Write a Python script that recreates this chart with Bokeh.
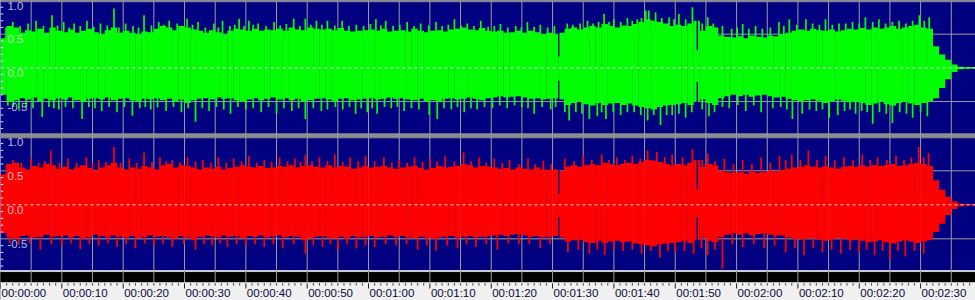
from bokeh.plotting import figure
from bokeh.models import Range1d, Span
from bokeh.embed import file_html
from bokeh.resources import INLINE
from bokeh.core.properties import value

# ---------------- data ----------------
# 1-second bins, t = bin start in seconds
t_bins = list(range(159))

# green (left / top channel) body envelope
g_hi = [0.44, 0.62, 0.60, 0.52, 0.56, 0.54, 0.58, 0.52, 0.60, 0.55,
        0.53, 0.57, 0.52, 0.55, 0.58, 0.53, 0.50, 0.56, 0.60, 0.52,
        0.55, 0.52, 0.50, 0.54, 0.53, 0.58, 0.62, 0.60, 0.56, 0.62,
        0.60, 0.57, 0.55, 0.52, 0.56, 0.53, 0.50, 0.55, 0.58, 0.57,
        0.55, 0.58, 0.55, 0.57, 0.56, 0.58, 0.55, 0.60, 0.57, 0.56,
        0.60, 0.58, 0.57, 0.58, 0.56, 0.59, 0.55, 0.54, 0.55, 0.56,
        0.57, 0.55, 0.58, 0.54, 0.55, 0.56, 0.54, 0.58, 0.55, 0.53,
        0.55, 0.56, 0.54, 0.57, 0.58, 0.60, 0.57, 0.56, 0.59, 0.55,
        0.54, 0.55, 0.52, 0.53, 0.55, 0.52, 0.55, 0.53, 0.50, 0.52,
        0.50, 0.52, 0.58, 0.60, 0.57, 0.60, 0.62, 0.60, 0.65, 0.62,
        0.60, 0.63, 0.62, 0.65, 0.68, 0.72, 0.70, 0.68, 0.66, 0.62,
        0.64, 0.62, 0.66, 0.70, 0.55, 0.62, 0.60, 0.48, 0.46, 0.45,
        0.47, 0.44, 0.48, 0.46, 0.45, 0.48, 0.47, 0.50, 0.52, 0.55,
        0.57, 0.55, 0.58, 0.56, 0.55, 0.57, 0.54, 0.56, 0.58, 0.57,
        0.59, 0.57, 0.60, 0.58, 0.60, 0.62, 0.58, 0.60, 0.62, 0.64,
        0.60, 0.58, 0.32, 0.20, 0.12, 0.05, 0.015, 0.012, 0.012]
g_lo = [-0.40, -0.50, -0.48, -0.45, -0.47, -0.44, -0.50, -0.46, -0.48, -0.45,
        -0.47, -0.44, -0.48, -0.50, -0.46, -0.45, -0.47, -0.44, -0.48, -0.46,
        -0.45, -0.48, -0.50, -0.46, -0.47, -0.45, -0.48, -0.46, -0.50, -0.47,
        -0.52, -0.48, -0.46, -0.45, -0.47, -0.44, -0.46, -0.45, -0.48, -0.50,
        -0.47, -0.45, -0.48, -0.46, -0.44, -0.47, -0.45, -0.48, -0.46, -0.50,
        -0.48, -0.46, -0.45, -0.47, -0.50, -0.46, -0.45, -0.48, -0.47, -0.46,
        -0.45, -0.47, -0.46, -0.44, -0.46, -0.45, -0.47, -0.48, -0.46, -0.50,
        -0.48, -0.50, -0.46, -0.45, -0.47, -0.46, -0.44, -0.46, -0.48, -0.45,
        -0.44, -0.42, -0.44, -0.43, -0.42, -0.44, -0.46, -0.45, -0.47, -0.46,
        -0.45, -0.47, -0.55, -0.52, -0.50, -0.54, -0.56, -0.52, -0.55, -0.53,
        -0.52, -0.55, -0.53, -0.56, -0.58, -0.60, -0.62, -0.58, -0.56, -0.55,
        -0.54, -0.52, -0.55, -0.50, -0.47, -0.52, -0.55, -0.45, -0.42, -0.40,
        -0.42, -0.40, -0.43, -0.41, -0.40, -0.42, -0.44, -0.43, -0.46, -0.48,
        -0.50, -0.48, -0.47, -0.49, -0.52, -0.50, -0.47, -0.49, -0.51, -0.50,
        -0.52, -0.55, -0.53, -0.50, -0.54, -0.56, -0.52, -0.50, -0.53, -0.55,
        -0.52, -0.50, -0.45, -0.30, -0.17, -0.06, -0.02, -0.012, -0.012]

# red (right / bottom channel) body envelope
r_hi = [0.45, 0.60, 0.62, 0.55, 0.52, 0.57, 0.55, 0.60, 0.58, 0.53,
        0.56, 0.52, 0.55, 0.58, 0.54, 0.50, 0.55, 0.58, 0.62, 0.55,
        0.52, 0.55, 0.53, 0.57, 0.55, 0.52, 0.58, 0.60, 0.55, 0.58,
        0.57, 0.55, 0.52, 0.55, 0.53, 0.56, 0.52, 0.54, 0.56, 0.58,
        0.56, 0.55, 0.57, 0.54, 0.55, 0.57, 0.56, 0.58, 0.55, 0.57,
        0.58, 0.56, 0.55, 0.58, 0.55, 0.57, 0.56, 0.53, 0.55, 0.57,
        0.55, 0.56, 0.57, 0.55, 0.53, 0.55, 0.56, 0.57, 0.54, 0.52,
        0.54, 0.57, 0.55, 0.56, 0.57, 0.60, 0.58, 0.55, 0.57, 0.56,
        0.55, 0.53, 0.54, 0.52, 0.55, 0.53, 0.52, 0.55, 0.52, 0.51,
        0.52, 0.50, 0.56, 0.58, 0.56, 0.58, 0.60, 0.58, 0.62, 0.60,
        0.58, 0.60, 0.62, 0.60, 0.63, 0.66, 0.65, 0.63, 0.60, 0.58,
        0.60, 0.58, 0.62, 0.66, 0.56, 0.60, 0.58, 0.50, 0.48, 0.47,
        0.48, 0.46, 0.49, 0.47, 0.48, 0.50, 0.49, 0.51, 0.53, 0.55,
        0.56, 0.58, 0.56, 0.55, 0.57, 0.55, 0.53, 0.56, 0.57, 0.56,
        0.58, 0.56, 0.58, 0.57, 0.59, 0.60, 0.57, 0.58, 0.60, 0.62,
        0.60, 0.57, 0.36, 0.22, 0.12, 0.05, 0.015, 0.012, 0.012]
r_lo = [-0.42, -0.48, -0.50, -0.46, -0.45, -0.48, -0.47, -0.44, -0.47, -0.46,
        -0.45, -0.48, -0.46, -0.50, -0.47, -0.44, -0.46, -0.48, -0.45, -0.47,
        -0.48, -0.46, -0.49, -0.47, -0.45, -0.47, -0.46, -0.48, -0.50, -0.46,
        -0.48, -0.52, -0.47, -0.45, -0.46, -0.48, -0.45, -0.47, -0.46, -0.49,
        -0.46, -0.47, -0.45, -0.48, -0.46, -0.45, -0.48, -0.46, -0.47, -0.52,
        -0.49, -0.47, -0.46, -0.48, -0.49, -0.47, -0.50, -0.46, -0.48, -0.47,
        -0.46, -0.48, -0.47, -0.45, -0.47, -0.46, -0.48, -0.49, -0.47, -0.48,
        -0.50, -0.48, -0.47, -0.46, -0.48, -0.47, -0.46, -0.48, -0.47, -0.46,
        -0.45, -0.44, -0.46, -0.44, -0.43, -0.45, -0.47, -0.46, -0.48, -0.47,
        -0.46, -0.48, -0.54, -0.52, -0.51, -0.55, -0.56, -0.53, -0.56, -0.54,
        -0.53, -0.55, -0.54, -0.57, -0.58, -0.60, -0.61, -0.58, -0.57, -0.56,
        -0.55, -0.53, -0.56, -0.52, -0.48, -0.53, -0.55, -0.47, -0.44, -0.42,
        -0.44, -0.42, -0.45, -0.43, -0.42, -0.44, -0.45, -0.45, -0.48, -0.50,
        -0.51, -0.50, -0.49, -0.51, -0.53, -0.51, -0.49, -0.50, -0.52, -0.51,
        -0.53, -0.55, -0.54, -0.52, -0.55, -0.57, -0.54, -0.52, -0.54, -0.56,
        -0.54, -0.52, -0.40, -0.28, -0.15, -0.06, -0.02, -0.012, -0.012]

# individual peaks (time in s, amplitude)
g_up_t = [0.9, 2.0, 3.2, 4.5, 5.8, 7.0, 8.4, 9.3, 10.3, 11.2, 12.0, 13.0, 14.1, 15.2, 16.3,
          17.4, 18.5, 19.3, 20.4, 21.6, 22.5, 23.4, 24.6, 25.8, 26.6, 27.5, 28.8, 29.6, 30.4,
          31.3, 32.2, 33.4, 34.8, 35.5, 36.2, 37.4, 38.2, 38.9, 39.7, 40.5, 41.2, 42.0, 43.3,
          44.6, 45.6, 46.6, 47.8, 48.8, 49.7, 50.6, 51.5, 52.4, 53.3, 54.5, 55.7, 56.8, 58.0,
          59.2, 60.3, 61.2, 62.0, 62.8, 64.0, 65.1, 66.3, 67.4, 68.5, 69.8, 71.0, 72.0, 73.0,
          74.0, 75.1, 76.1, 77.2, 78.3, 79.5, 80.5, 81.5, 82.7, 84.0, 84.9, 85.9, 87.0, 88.0,
          89.2, 90.3, 92.4, 93.3, 94.5, 95.7, 96.6, 97.5, 98.4, 99.2, 100.0, 101.1, 102.2,
          103.0, 103.8, 104.5, 105.2, 105.7, 106.8, 107.8, 109.0, 109.8, 110.6, 111.7, 112.8,
          114.4, 115.3, 116.2, 117.7, 119.2, 120.1, 121.0, 122.0, 123.1, 124.2, 125.5, 126.9,
          127.7, 128.6, 129.8, 131.3, 132.4, 133.5, 134.5, 135.6, 136.7, 137.8, 138.9, 140.0,
          141.0, 142.2, 143.2, 144.3, 145.4, 146.5, 147.6, 148.7, 149.8, 150.6, 151.4]
g_up_v = [0.60, 0.68, 0.62, 0.66, 0.70, 0.62, 0.78, 0.63, 0.68, 0.60, 0.66, 0.62, 0.70, 0.61, 0.66,
          0.63, 0.88, 0.60, 0.66, 0.62, 0.60, 0.78, 0.63, 0.68, 0.64, 0.70, 0.66, 0.62, 0.73,
          0.64, 0.68, 0.60, 0.66, 0.60, 0.70, 0.62, 0.64, 0.73, 0.62, 0.70, 0.64, 0.66, 0.62,
          0.68, 0.63, 0.65, 0.73, 0.62, 0.73, 0.64, 0.70, 0.64, 0.70, 0.63, 0.70, 0.62, 0.64,
          0.62, 0.65, 0.72, 0.63, 0.70, 0.62, 0.64, 0.68, 0.62, 0.66, 0.63, 0.68, 0.62, 0.64,
          0.72, 0.63, 0.66, 0.62, 0.70, 0.61, 0.62, 0.65, 0.60, 0.62, 0.60, 0.68, 0.61, 0.64,
          0.60, 0.62, 0.66, 0.64, 0.66, 0.70, 0.66, 0.68, 0.80, 0.68, 0.72, 0.68, 0.74,
          0.70, 0.72, 0.74, 0.85, 0.85, 0.82, 0.74, 0.75, 0.72, 0.80, 0.72, 0.90,
          0.66, 0.75, 0.66, 0.62, 0.58, 0.60, 0.65, 0.58, 0.62, 0.58, 0.60, 0.68,
          0.62, 0.72, 0.64, 0.72, 0.66, 0.64, 0.72, 0.64, 0.66, 0.66, 0.68, 0.66,
          0.75, 0.68, 0.72, 0.66, 0.68, 0.70, 0.66, 0.70, 0.78, 0.70, 0.75]
g_dn_t = [1.2, 2.1, 3.0, 4.2, 5.3, 6.8, 7.9, 8.7, 9.5, 10.6, 11.8, 13.3, 14.4, 15.4, 16.5,
          17.7, 19.0, 20.2, 21.5, 22.7, 23.6, 24.5, 25.6, 27.0, 28.2, 29.5, 30.6, 31.8, 32.9,
          34.0, 35.2, 36.4, 37.5, 38.7, 40.0, 41.2, 42.5, 43.7, 45.0, 46.2, 47.5, 48.6, 49.7,
          51.0, 52.3, 53.3, 54.6, 55.8, 56.9, 57.9, 58.8, 59.8, 60.6, 61.4, 62.6, 63.7, 64.7,
          65.8, 67.0, 68.2, 69.9, 71.2, 72.3, 73.5, 74.5, 75.6, 76.7, 77.7, 78.9, 80.2, 81.4,
          82.6, 83.8, 85.0, 86.0, 87.0, 88.3, 89.7, 90.5, 92.0, 92.7, 93.8, 94.8, 96.0, 97.3,
          98.0, 98.7, 99.9, 101.1, 102.2, 103.3, 104.4, 105.5, 106.5, 107.6, 108.6, 109.5,
          110.6, 111.7, 112.7, 114.4, 115.5, 116.4, 117.7, 118.8, 120.2, 121.5, 122.8, 124.0,
          125.9, 127.2, 128.2, 129.1, 130.7, 131.9, 133.0, 134.0, 135.1, 136.5, 137.6, 138.5,
          139.4, 140.4, 141.3, 142.2, 143.3, 144.4, 145.4, 146.6, 147.7, 148.7, 150.0, 151.1]
g_dn_v = [-0.56, -0.58, -0.62, -0.58, -0.60, -0.73, -0.58, -0.60, -0.62, -0.58, -0.60, -0.76, -0.58, -0.60, -0.64,
          -0.58, -0.66, -0.58, -0.71, -0.60, -0.58, -0.62, -0.59, -0.64, -0.58, -0.66, -0.60, -0.80, -0.60,
          -0.64, -0.58, -0.62, -0.68, -0.58, -0.62, -0.60, -0.66, -0.58, -0.68, -0.60, -0.64, -0.60, -0.76,
          -0.60, -0.64, -0.62, -0.58, -0.62, -0.58, -0.68, -0.60, -0.66, -0.60, -0.68, -0.58, -0.60, -0.58,
          -0.64, -0.60, -0.62, -0.70, -0.76, -0.60, -0.62, -0.58, -0.66, -0.60, -0.62, -0.58, -0.60, -0.56,
          -0.60, -0.56, -0.58, -0.60, -0.68, -0.58, -0.62, -0.58, -0.66, -0.78, -0.66, -0.68, -0.76, -0.72,
          -0.66, -0.76, -0.66, -0.70, -0.66, -0.66, -0.70, -0.78, -0.70, -0.85, -0.70, -0.70,
          -0.68, -0.74, -0.66, -0.62, -0.72, -0.66, -0.58, -0.60, -0.55, -0.64, -0.56, -0.66,
          -0.60, -0.58, -0.62, -0.76, -0.68, -0.62, -0.64, -0.62, -0.74, -0.70, -0.64, -0.62,
          -0.68, -0.64, -0.66, -0.83, -0.66, -0.68, -0.82, -0.66, -0.68, -0.74, -0.66, -0.72]
r_up_t = [1.0, 2.0, 3.4, 5.0, 6.2, 7.2, 8.2, 9.6, 11.0, 12.4, 14.0, 15.0, 16.0, 17.2, 18.5,
          19.6, 21.0, 22.2, 23.4, 24.7, 26.0, 27.0, 28.0, 29.3, 30.5, 31.8, 33.0, 34.3, 35.5,
          36.8, 38.0, 39.3, 40.5, 41.8, 43.0, 44.2, 45.5, 46.8, 48.0, 48.9, 49.7, 50.8, 52.0,
          53.3, 54.5, 55.8, 57.0, 58.3, 59.5, 61.0, 62.5, 63.8, 65.0, 66.3, 67.5, 68.8, 70.0,
          71.2, 72.5, 74.0, 75.5, 76.7, 78.0, 79.2, 80.5, 81.8, 83.0, 84.5, 86.0, 87.2, 88.5,
          89.8, 92.0, 93.5, 95.0, 96.4, 98.0, 99.2, 100.5, 101.8, 103.0, 104.3, 105.5, 107.0,
          108.3, 109.5, 111.2, 112.8, 114.4, 115.3, 116.5, 118.0, 119.5, 121.0, 122.5, 124.0,
          125.5, 127.0, 128.0, 129.0, 130.4, 131.7, 133.1, 134.5, 136.0, 137.5, 139.0, 140.5,
          141.8, 143.0, 144.5, 146.0, 147.3, 148.5, 149.7, 150.5, 151.3]
r_up_v = [0.60, 0.66, 0.62, 0.68, 0.62, 0.64, 0.80, 0.62, 0.68, 0.62, 0.70, 0.62, 0.66, 0.63, 0.85,
          0.62, 0.68, 0.62, 0.77, 0.63, 0.70, 0.64, 0.66, 0.63, 0.70, 0.64, 0.66, 0.62, 0.70,
          0.62, 0.68, 0.64, 0.72, 0.62, 0.66, 0.63, 0.70, 0.64, 0.68, 0.63, 0.73, 0.64, 0.70,
          0.64, 0.74, 0.63, 0.70, 0.64, 0.72, 0.64, 0.70, 0.62, 0.66, 0.62, 0.70, 0.63, 0.68,
          0.64, 0.72, 0.64, 0.77, 0.64, 0.70, 0.62, 0.68, 0.62, 0.66, 0.60, 0.68, 0.60, 0.65,
          0.60, 0.68, 0.64, 0.72, 0.66, 0.74, 0.66, 0.70, 0.66, 0.72, 0.68, 0.80, 0.78,
          0.70, 0.74, 0.70, 0.82, 0.66, 0.75, 0.64, 0.68, 0.60, 0.66, 0.60, 0.70,
          0.62, 0.72, 0.66, 0.74, 0.66, 0.80, 0.66, 0.72, 0.66, 0.70, 0.66, 0.74,
          0.66, 0.70, 0.66, 0.72, 0.66, 0.70, 0.85, 0.70, 0.76]
r_dn_t = [1.5, 3.0, 4.8, 6.5, 8.3, 10.0, 11.5, 13.0, 14.5, 16.0, 17.5, 19.0, 20.5, 22.0, 23.5,
          25.0, 26.5, 28.0, 29.9, 31.8, 33.2, 34.5, 35.8, 37.0, 38.5, 40.0, 41.5, 43.0, 44.5,
          46.0, 47.8, 49.7, 51.0, 52.5, 53.8, 55.0, 56.5, 58.0, 59.5, 61.0, 62.8, 64.5, 66.2,
          68.0, 69.5, 71.0, 72.8, 74.5, 76.0, 77.5, 79.2, 81.0, 82.8, 84.5, 86.2, 88.0, 89.6,
          92.5, 94.2, 96.0, 97.3, 98.5, 100.0, 101.5, 103.0, 104.5, 106.0, 107.5, 108.8, 110.0,
          111.5, 113.0, 114.3, 115.3, 116.5, 117.7, 119.3, 121.0, 122.8, 124.5, 126.2, 128.0,
          129.5, 131.0, 132.5, 134.0, 135.5, 137.0, 138.5, 140.0, 141.2, 142.5, 143.8, 145.0,
          146.3, 147.5, 149.0, 150.5]
r_dn_v = [-0.56, -0.58, -0.56, -0.66, -0.58, -0.60, -0.57, -0.65, -0.58, -0.60, -0.57, -0.62, -0.58, -0.64, -0.57,
          -0.60, -0.58, -0.62, -0.58, -0.66, -0.58, -0.60, -0.57, -0.62, -0.58, -0.60, -0.58, -0.62, -0.58,
          -0.64, -0.58, -0.72, -0.60, -0.62, -0.58, -0.66, -0.58, -0.64, -0.60, -0.62, -0.58, -0.60, -0.58,
          -0.66, -0.60, -0.68, -0.60, -0.64, -0.58, -0.62, -0.58, -0.66, -0.57, -0.58, -0.58, -0.64, -0.58,
          -0.70, -0.66, -0.72, -0.66, -0.74, -0.66, -0.68, -0.66, -0.72, -0.68, -0.78, -0.68, -0.70,
          -0.68, -0.72, -0.64, -0.74, -0.66, -0.94, -0.58, -0.62, -0.58, -0.64, -0.60, -0.70,
          -0.64, -0.74, -0.64, -0.70, -0.66, -0.72, -0.66, -0.70, -0.66, -0.74, -0.68, -0.80,
          -0.68, -0.76, -0.68, -0.72]

# short quiet instants (time, reduced amplitude)
dip_t = [91.0, 113.6]
g_dip_hi = [0.17, 0.26]
g_dip_lo = [-0.19, -0.21]
r_dip_hi = [0.16, 0.23]
r_dip_lo = [-0.18, -0.18]

# ticks and labels
time_ticks = [0, 10, 20, 30, 40, 50, 60, 70, 80, 90, 100, 110, 120, 130, 140, 150]
time_labels = ["00:00:00", "00:00:10", "00:00:20", "00:00:30", "00:00:40", "00:00:50",
               "00:01:00", "00:01:10", "00:01:20", "00:01:30", "00:01:40", "00:01:50",
               "00:02:00", "00:02:10", "00:02:20", "00:02:30"]
time_minor = [s for s in range(0, 159) if s % 10 != 0]
grid_times = [5 * k for k in range(1, 32)]
amp_ticks = [1.0, 0.5, 0.0, -0.5]
amp_labels = ["1.0", "0.5", "0.0", "-0.5"]
amp_minor = [0.9, 0.8, 0.7, 0.6, 0.4, 0.3, 0.2, 0.1, -0.1, -0.2, -0.3, -0.4, -0.6, -0.7, -0.8, -0.9]

# ---------------- figure ----------------
NAVY = "#000080"
FONT = value("Liberation Sans")
p = figure(frame_width=975, frame_height=300,
           x_range=Range1d(0, 158.95), y_range=Range1d(300, 0),
           x_axis_location=None, y_axis_location=None,
           toolbar_location=None, output_backend="svg",
           min_border=0, min_border_left=0, min_border_right=0, min_border_top=0, min_border_bottom=0,
           background_fill_color=NAVY, border_fill_color="#f0f0f0", outline_line_color=None)
p.extra_y_ranges = {"top": Range1d(-3.454, 1.0), "bot": Range1d(-1.407, 3.004)}
p.grid.visible = False

# frame decorations (pixel rows on the default range)
p.quad(left=-2, right=161, top=0, bottom=1.2, color="#8c8c8c", level="image")
p.quad(left=-2, right=161, top=133.3, bottom=137.3, color="#8c8c8c", level="image")
p.quad(left=-2, right=161, top=270.3, bottom=271.8, color="#ffffff", level="image")
p.quad(left=-2, right=161, top=271.8, bottom=282.3, color="#000000", level="image")

# grid
vg = p.segment(x0=grid_times, y0=[0] * len(grid_times), x1=grid_times, y1=[282.3] * len(grid_times),
               line_color="#9c9c9c", line_width=1)
vg.level = "underlay"
for rn in ("top", "bot"):
    for loc in (0.5, -0.5):
        p.add_layout(Span(location=loc, dimension="width", y_range_name=rn,
                          line_color="#9c9c9c", line_width=1, level="underlay"))

# waveforms
def channel(hi, lo, up_t, up_v, dn_t, dn_v, dhi, dlo, color, rn):
    xc = [tb + 0.5 for tb in t_bins]
    p.vbar(x=xc, width=1.04, top=hi, bottom=lo, color=color, line_width=0, y_range_name=rn)
    p.segment(x0=up_t, y0=[0] * len(up_t), x1=up_t, y1=up_v, line_color=color,
              line_width=1.7, y_range_name=rn)
    p.segment(x0=dn_t, y0=[0] * len(dn_t), x1=dn_t, y1=dn_v, line_color=color,
              line_width=1.7, y_range_name=rn)
    p.segment(x0=dip_t, y0=dhi, x1=dip_t, y1=[hi[int(d)] + 0.01 for d in dip_t],
              line_color=NAVY, line_width=1.4, y_range_name=rn)
    p.segment(x0=dip_t, y0=dlo, x1=dip_t, y1=[lo[int(d)] - 0.01 for d in dip_t],
              line_color=NAVY, line_width=1.4, y_range_name=rn)

channel(g_hi, g_lo, g_up_t, g_up_v, g_dn_t, g_dn_v, g_dip_hi, g_dip_lo, "#00ff00", "top")
channel(r_hi, r_lo, r_up_t, r_up_v, r_dn_t, r_dn_v, r_dip_hi, r_dip_lo, "#ff0000", "bot")

for rn in ("top", "bot"):
    p.add_layout(Span(location=0, dimension="width", y_range_name=rn,
                      line_color="#d8d8d8", line_width=1, line_dash="3 3", level="overlay"))
    p.segment(x0=[0] * len(amp_minor), y0=amp_minor, x1=[0.45] * len(amp_minor), y1=amp_minor,
              line_color="#e8e8e8", line_width=1, y_range_name=rn)
    p.text(x=[0] * len(amp_ticks), y=amp_ticks, text=amp_labels, x_offset=7, y_offset=1,
           text_align="left", text_baseline="top", text_font=FONT,
           text_font_size="11.5px", text_color="#e6e6e6", text_alpha=0.8, y_range_name=rn)

# time ruler (drawn in the frame, below the black band)
p.quad(left=-2, right=161, top=282.3, bottom=301, color="#f0f0f0")
p.segment(x0=time_minor, y0=[282.8] * len(time_minor), x1=time_minor, y1=[285] * len(time_minor),
          line_color="#303030", line_width=1)
p.segment(x0=time_ticks, y0=[282.8] * len(time_ticks), x1=time_ticks, y1=[288] * len(time_ticks),
          line_color="#202020", line_width=1)
p.text(x=time_ticks, y=[286] * len(time_ticks), text=time_labels, x_offset=1,
       text_align="left", text_baseline="top", text_font=FONT,
       text_font_size="11.5px", text_color="#0a0a3c")

open("out.html", "w").write(file_html(p, INLINE))
